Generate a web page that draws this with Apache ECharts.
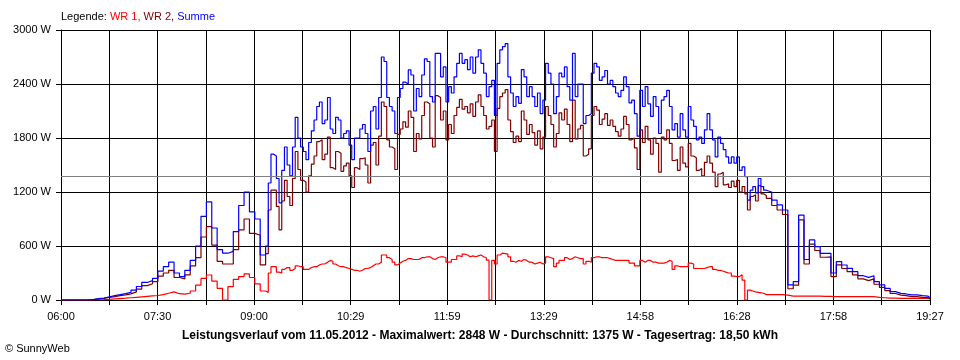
<!DOCTYPE html>
<html><head><meta charset="utf-8">
<script src="https://cdn.jsdelivr.net/npm/echarts@6/dist/echarts.min.js"></script>
<style>html,body{margin:0;padding:0;background:#fff}#c{width:960px;height:360px}</style>
</head><body><div id="c"></div><script>
// time in minutes after 06:00; main samples every 5 minutes (last one at 19:27),
// extra samples half-way between them from 09:12:30 to 16:52:30
const STEP_MIN = 5;
const LAST_MIN = 807;
const MID_START = 192.5;
const timeLabels = ['06:00','07:30','09:00','10:29','11:59','13:29','14:58','16:28','17:58','19:27'];
const yTicks = [0, 600, 1200, 1800, 2400, 3000];
const average = 1375;

const wr1 = [
0,0,0,0,0,0,3,5,8,12,
16,20,25,30,35,40,45,50,60,75,
90,70,65,75,100,165,240,278,210,130,
0,148,230,260,290,250,180,100,85,370,
310,340,360,350,370,340,360,370,400,420,
430,380,370,350,330,320,350,360,400,420,
500,450,390,430,460,450,450,470,480,450,
480,470,420,450,480,500,490,490,480,444,
440,500,515,480,420,430,440,420,410,400,
480,460,410,440,450,480,460,400,420,480,
470,470,450,440,440,440,410,380,420,440,
420,410,420,430,380,370,370,400,350,350,
370,340,330,310,300,260,280,0,100,85,
75,60,59,59,55,44,44,44,44,44,
44,40,40,37,37,37,37,37,37,37,
37,30,25,20,20,19,19,19,19,19,
18,15,12];

const wr2 = [
0,0,0,0,0,5,12,18,28,38,
48,56,68,90,120,160,180,205,265,300,
330,250,235,280,380,470,700,815,610,430,
400,400,560,780,900,740,720,390,515,1220,
1040,1100,1150,1350,1450,1310,1380,1600,1780,1620,
1470,1650,1430,1520,1250,1450,1580,1300,1750,1820,
2150,1700,1450,1900,1920,2030,1850,2050,2180,1700,
2250,2100,1950,2050,2230,2150,2180,2200,2150,1900,
2000,2130,2300,2000,1750,1760,2000,1950,1720,1680,
2150,1950,1850,2000,1950,2220,1900,1600,1680,2150,
1950,2070,2000,1870,1900,1950,1800,1450,1750,1780,
1800,1420,1780,1740,1560,1700,1480,1600,1440,1380,
1600,1420,1400,1280,1250,1260,1200,1180,1150,1100,
1180,1130,1050,1000,950,125,165,890,400,620,
550,475,480,260,390,350,315,280,235,215,
235,175,140,105,72,55,48,37,37,30,
28,12,8];

const summe = [
0,0,0,0,0,5,15,22,35,48,
60,70,85,110,150,195,215,240,320,370,
420,300,260,330,440,600,930,1090,800,560,
520,540,760,1050,1200,980,900,500,600,1620,
1350,1440,1500,1700,1800,1650,1750,2000,2200,2000,
1900,2030,1800,1880,1560,1800,1950,1650,2150,2250,
2650,2150,1850,2350,2400,2500,2350,2500,2650,2200,
2740,2590,2370,2480,2740,2670,2700,2700,2630,2260,
2440,2630,2815,2480,2150,2185,2480,2370,2150,2070,
2630,2400,2260,2480,2370,2740,2400,1960,2070,2630,
2440,2550,2440,2300,2330,2370,2220,1820,2150,2180,
2260,1850,2260,2150,1960,2070,1810,2000,1780,1740,
2070,1780,1810,1670,1520,1520,1440,1370,1220,1190,
1260,1200,1110,1056,1000,167,204,944,450,667,
593,519,519,300,426,389,352,315,270,252,
270,204,167,130,93,74,67,56,56,48,
44,26,19];

// half-way samples, starting at MID_START, every 5 minutes
const wr1Mid = [
300,370,300,360,330,380,370,340,370,390,
400,440,400,370,360,340,330,330,350,380,
400,500,470,420,410,440,460,450,470,480,
460,470,480,420,450,490,510,480,480,500,
470,0,400,520,510,430,440,450,420,400,
420,410,470,370,440,470,460,470,460,430,
470,480,470,460,440,440,440,410,380,440,
440,420,410,410,440,340,370,370,410,350,
350,360,370,330,320,300,265,260,220,110,
90,80,60];

const wr2Mid = [
1000,1220,780,1330,1050,1650,1330,1200,1510,1760,
1560,1810,1450,1630,1490,1380,1470,1570,1500,1720,
1500,2200,1780,1680,1840,1980,2100,1650,1790,2200,
1800,2270,2000,1780,1850,2140,2120,2080,2040,2280,
2050,1930,1650,2260,2338,1870,1820,2100,1840,1860,
1880,1810,2050,1700,2080,2120,1760,1790,1940,1620,
2050,2110,2010,1940,1930,1820,2040,1780,1690,1890,
1930,1620,1740,1810,1890,1550,1440,1520,1740,1580,
1460,1530,1520,1260,1420,1290,1320,1330,1260,1000,
1170,1270,1160];

const summeMid = [
1300,1600,1080,1700,1380,2030,1700,1560,1880,2150,
1960,2250,1850,2000,1850,1720,1800,1900,1850,2100,
1900,2700,2250,2100,2250,2420,2556,2100,2260,2680,
2260,2740,2480,2200,2300,2630,2630,2560,2520,2780,
2520,2370,2050,2780,2848,2300,2260,2560,2260,2260,
2300,2220,2520,2070,2520,2590,2220,2260,2400,2050,
2520,2590,2480,2400,2370,2260,2480,2190,2070,2330,
2370,2040,2150,2220,2330,1890,1810,1890,2150,1930,
1810,1890,1890,1590,1740,1590,1590,1590,1480,1110,
1260,1350,1220];

const minuteOf = i => Math.min(i * STEP_MIN, LAST_MIN);
function merged(main, mid) {
  const pts = main.map((v, i) => [minuteOf(i), v]);
  mid.forEach((v, j) => pts.push([MID_START + j * STEP_MIN, v]));
  return pts.sort((a, b) => a[0] - b[0]);
}

const XDIV = 18;
const XINT = LAST_MIN / XDIV;
const FONT = '"Liberation Sans", Arial, sans-serif';

const chart = echarts.init(document.getElementById('c'), null, {renderer: 'canvas'});
const lineSeries = (name, data, color, extra) => Object.assign({
  name, type: 'line', data, showSymbol: false, symbol: 'none', step: 'end',
  lineStyle: {color, width: 1.2}, itemStyle: {color}, animation: false, silent: true
}, extra || {});

chart.setOption({
  animation: false,
  backgroundColor: '#ffffff',
  grid: {left: 61, right: 30, top: 30, bottom: 60, containLabel: false},
  xAxis: {
    type: 'value', min: 0, max: LAST_MIN, interval: XINT,
    axisLine: {show: true, lineStyle: {color: '#000', width: 1}},
    axisTick: {show: true, length: 5, lineStyle: {color: '#000', width: 1}},
    splitLine: {show: true, lineStyle: {color: '#000', width: 1}},
    axisLabel: {
      color: '#000', fontFamily: FONT, fontSize: 11, margin: 11,
      showMinLabel: true, showMaxLabel: true, hideOverlap: false,
      formatter: v => { const k = Math.round(v / XINT); return k % 2 === 0 ? (timeLabels[k / 2] || '') : ''; }
    }
  },
  yAxis: {
    type: 'value', min: yTicks[0], max: yTicks[yTicks.length - 1], interval: yTicks[1] - yTicks[0],
    axisLine: {show: true, lineStyle: {color: '#000', width: 1}},
    axisTick: {show: true, length: 5, lineStyle: {color: '#000', width: 1}},
    splitLine: {show: true, lineStyle: {color: '#000', width: 1}},
    axisLabel: {color: '#000', fontFamily: FONT, fontSize: 11, margin: 10, formatter: v => v + ' W'}
  },
  series: [
    lineSeries('WR 1', merged(wr1, wr1Mid), '#ff0000', {
      markLine: {silent: true, symbol: 'none', label: {show: false},
        lineStyle: {color: '#808080', type: 'solid', width: 1}, data: [{yAxis: average}]}
    }),
    lineSeries('WR 2', merged(wr2, wr2Mid), '#800000'),
    lineSeries('Summe', merged(summe, summeMid), '#0000ff')
  ],
  graphic: [
    {type: 'text', left: 61, top: 11, style: {
      text: '{k|Legende: }{a|WR 1, }{b|WR 2, }{c|Summe}',
      font: '11px ' + FONT,
      rich: {k: {fill: '#000', fontSize: 11, fontFamily: FONT}, a: {fill: '#ff0000', fontSize: 11, fontFamily: FONT},
             b: {fill: '#800000', fontSize: 11, fontFamily: FONT}, c: {fill: '#0000ff', fontSize: 11, fontFamily: FONT}}
    }},
    {type: 'text', left: 'center', top: 330, style: {
      text: 'Leistungsverlauf vom 11.05.2012 - Maximalwert: 2848 W - Durchschnitt: 1375 W - Tagesertrag: 18,50 kWh',
      font: 'bold 12px ' + FONT, fill: '#000'
    }},
    {type: 'text', left: 5, top: 343, style: {text: '© SunnyWeb', font: '11px ' + FONT, fill: '#000'}}
  ]
});
</script></body></html>
